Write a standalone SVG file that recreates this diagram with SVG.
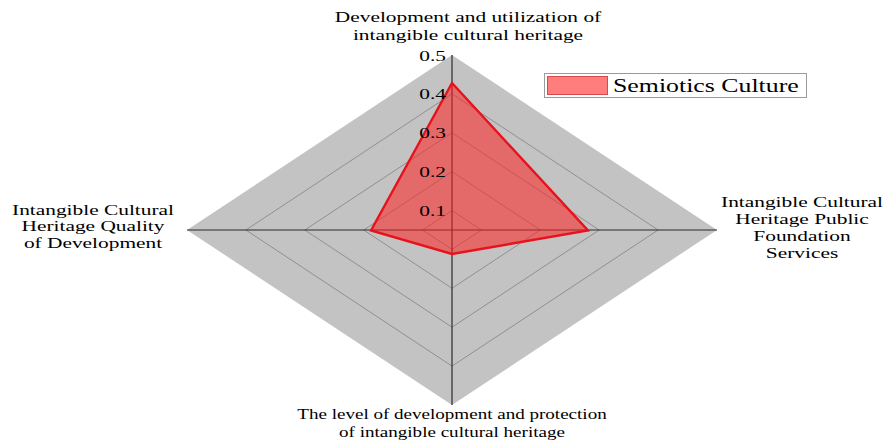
<svg xmlns="http://www.w3.org/2000/svg" width="885" height="443" viewBox="0 0 885 443">
  <style>
    .lbl { font-family: "Liberation Serif", "Times New Roman", serif; font-size: 15.5px; fill: #000000; }
    .axlbl { text-anchor: middle; }
    .tick { text-anchor: end; }
    .grid { fill: none; stroke: #8a8a8a; stroke-width: 0.9; }
    .axis { stroke: #2a2a2a; stroke-width: 1.2; }
  </style>
  <rect width="885" height="443" fill="#ffffff"/>

  <!-- radar background and grid (levels 0.1 .. 0.5, origin at 0.05) -->
  <g id="grid">
    <polygon points="452,55 717,230 452,405 187,230" fill="#c3c3c3"/>
    <polygon class="grid" points="452,93.9 658.1,230 452,366.1 245.9,230"/>
    <polygon class="grid" points="452,132.8 599.2,230 452,327.2 304.8,230"/>
    <polygon class="grid" points="452,171.7 540.3,230 452,288.3 363.7,230"/>
    <polygon class="grid" points="452,210.6 481.4,230 452,249.4 422.6,230"/>
  </g>

  <!-- axes -->
  <g id="axes">
    <line class="axis" x1="187" y1="230" x2="717" y2="230"/>
    <line class="axis" x1="452" y1="55" x2="452" y2="405"/>
  </g>

  <!-- data series -->
  <g id="series-semiotics">
    <polygon points="452,83 588,230.5 452,254 371,230.5" fill="#ff2020" fill-opacity="0.55" stroke="#e8121c" stroke-width="2.4" stroke-linejoin="miter"/>
  </g>

  <!-- tick labels -->
  <g id="ticks" class="lbl tick">
    <text transform="translate(446,61) scale(1.38,1)">0.5</text>
    <text transform="translate(446,99) scale(1.38,1)">0.4</text>
    <text transform="translate(446,138) scale(1.38,1)">0.3</text>
    <text transform="translate(446,177) scale(1.38,1)">0.2</text>
    <text transform="translate(446,216) scale(1.38,1)">0.1</text>
  </g>

  <!-- axis labels -->
  <g id="label-top" class="lbl axlbl">
    <text transform="translate(468,22) scale(1.38,1)"><tspan x="0" y="0">Development and utilization of</tspan><tspan x="0" y="18">intangible cultural heritage</tspan></text>
  </g>
  <g id="label-right" class="lbl axlbl">
    <text transform="translate(802,207) scale(1.38,1)"><tspan x="0" y="0">Intangible Cultural</tspan><tspan x="0" y="17">Heritage Public</tspan><tspan x="0" y="34">Foundation</tspan><tspan x="0" y="51">Services</tspan></text>
  </g>
  <g id="label-bottom" class="lbl axlbl">
    <text transform="translate(452,419) scale(1.23,1)"><tspan x="0" y="0">The level of development and protection</tspan><tspan x="0" y="18">of intangible cultural heritage</tspan></text>
  </g>
  <g id="label-left" class="lbl axlbl">
    <text transform="translate(93,215) scale(1.38,1)"><tspan x="0" y="0">Intangible Cultural</tspan><tspan x="0" y="16.5">Heritage Quality</tspan><tspan x="0" y="33">of Development</tspan></text>
  </g>

  <!-- legend -->
  <g id="legend">
    <rect x="544.5" y="73.5" width="262" height="24" fill="#ffffff" stroke="#9a9a9a" stroke-width="1"/>
    <rect x="547.5" y="76.5" width="60" height="18" fill="#ff7d7d" stroke="#d84a4a" stroke-width="1"/>
    <text class="lbl" style="font-size:19px" transform="translate(613,92) scale(1.36,1)">Semiotics Culture</text>
  </g>
</svg>
